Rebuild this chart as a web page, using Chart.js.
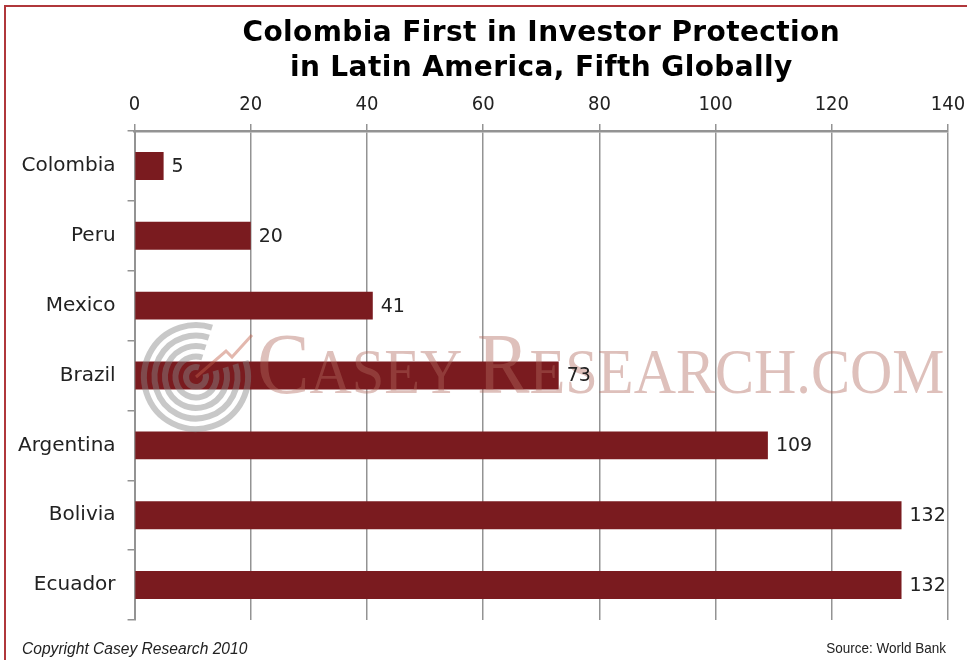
<!DOCTYPE html>
<html>
<head>
<meta charset="utf-8">
<script src="https://cdn.jsdelivr.net/npm/chart.js@4"></script>
<style>
  html, body { margin: 0; padding: 0; background: #fff; }
  #wrap { width: 967px; height: 660px; position: relative; }
</style>
</head>
<body>
<div id="wrap"><canvas id="rankChart" width="967" height="660"></canvas></div>
<script>
// data
const countries = ['Colombia', 'Peru', 'Mexico', 'Brazil', 'Argentina', 'Bolivia', 'Ecuador']
const ranks = [5, 20, 41, 73, 109, 132, 132]
const xTicks = [0, 20, 40, 60, 80, 100, 120, 140]
const titleLines = ['Colombia First in Investor Protection', 'in Latin America, Fifth Globally']
const copyrightNote = 'Copyright Casey Research 2010'
const sourceNote = 'Source: World Bank'
const watermark = ['C', 'ASEY ', 'R', 'ESEARCH.COM']

const barColor = '#7a1b1f'
const gridColor = '#939393'

// frame, title, watermark, value labels, footer
const decorations = {
    id: 'decorations',
    beforeDraw(chart){
        const ctx = chart.ctx
        ctx.save()
        ctx.strokeStyle = '#b0373b'
        ctx.lineWidth = 2
        ctx.strokeRect(5, 6, 1000, 700)

        // title, centred over the plot
        const area = chart.chartArea
        const cx = (area.left + area.right) / 2
        ctx.fillStyle = '#000'
        ctx.font = 'bold 28px "DejaVu Sans"'
        ctx.letterSpacing = '0.4px'
        ctx.textAlign = 'center'
        ctx.textBaseline = 'alphabetic'
        ctx.fillText(titleLines[0], cx, 41)
        ctx.fillText(titleLines[1], cx, 76)
        ctx.restore()
    },
    afterDatasetsDraw(chart){
        const ctx = chart.ctx
        // watermark logo
        ctx.save()
        ctx.globalAlpha = 0.45
        ctx.strokeStyle = '#858585'
        ctx.lineWidth = 6
        for (let r = 10; r <= 52; r += 10.5){
            ctx.beginPath()
            ctx.arc(196, 377, r, Math.PI * 1.9, Math.PI * 1.6, false)
            ctx.stroke()
        }
        ctx.strokeStyle = '#c0624c'
        ctx.lineWidth = 3
        ctx.beginPath()
        ctx.moveTo(196, 377); ctx.lineTo(226, 351); ctx.lineTo(232, 357); ctx.lineTo(252, 335)
        ctx.stroke()
        ctx.restore()

        // watermark text
        ctx.save()
        ctx.fillStyle = 'rgba(176, 104, 92, 0.42)'
        ctx.textBaseline = 'alphabetic'
        ctx.translate(257, 393)
        ctx.scale(0.915, 1)
        let x = 0
        const sizes = [86, 64, 86, 64]
        watermark.forEach((part, i) => {
            ctx.font = sizes[i] + 'px "Liberation Serif"'
            ctx.fillText(part, x, 0)
            x += ctx.measureText(part).width
        })
        ctx.restore()

        // value labels
        const meta = chart.getDatasetMeta(0)
        ctx.save()
        ctx.fillStyle = '#222'
        ctx.font = '19px "DejaVu Sans"'
        ctx.textBaseline = 'middle'
        ctx.textAlign = 'left'
        meta.data.forEach((bar, i) => {
            ctx.fillText(String(ranks[i]), bar.x + 8, bar.y + 1)
        })
        ctx.restore()

        // footer
        ctx.save()
        ctx.fillStyle = '#222'
        ctx.textBaseline = 'middle'
        ctx.font = 'italic 15.6px "Liberation Sans"'
        ctx.textAlign = 'left'
        ctx.fillText(copyrightNote, 22, 650)
        ctx.font = '15px "Liberation Sans"'
        ctx.textAlign = 'right'
        ctx.translate(946, 649)
        ctx.scale(0.9, 1)
        ctx.fillText(sourceNote, 0, 0)
        ctx.restore()
    }
}

new Chart(document.querySelector('#rankChart').getContext('2d'), {
    type: 'bar',
    data: {
        labels: countries,
        datasets: [{
            label: 'Rank',
            data: ranks,
            backgroundColor: barColor,
            borderWidth: 0,
            categoryPercentage: 0.4,
            barPercentage: 1
        }]
    },
    options: {
        indexAxis: 'y',
        responsive: false,
        animation: false,
        layout: { padding: { top: 86, right: 19, bottom: 40, left: 6 } },
        plugins: {
            legend: { display: false },
            tooltip: { enabled: false }
        },
        scales: {
            x: {
                position: 'top',
                min: 0,
                max: 140,
                afterBuildTicks(axis){ axis.ticks = xTicks.map(v => ({ value: v })) },
                // let the "140" label hang past the plot edge like the original
                afterFit(axis){ axis.paddingRight = 0 },
                grid: { color: gridColor, lineWidth: 1.5, tickLength: 7, drawTicks: true },
                border: { color: gridColor, width: 2.5 },
                ticks: {
                    color: '#222',
                    padding: 7,
                    font: { family: '"DejaVu Sans Condensed", "DejaVu Sans"', size: 20 }
                }
            },
            y: {
                offset: true,
                grid: { offset: true, drawOnChartArea: false, color: gridColor, lineWidth: 1.5, tickLength: 7 },
                border: { color: gridColor, width: 2 },
                ticks: {
                    color: '#222',
                    padding: 12,
                    font: { family: '"DejaVu Sans"', size: 20 }
                }
            }
        }
    },
    plugins: [decorations]
})
</script>
</body>
</html>
